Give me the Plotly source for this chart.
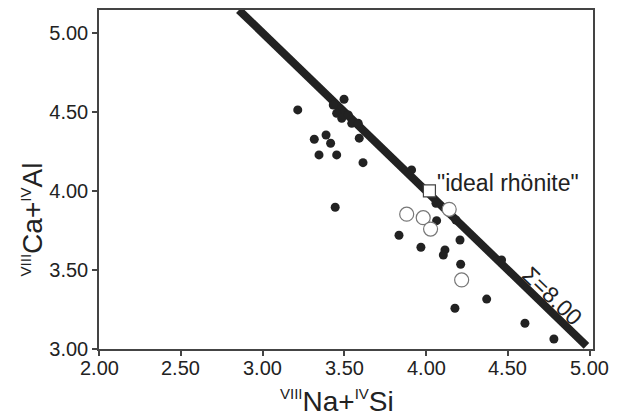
import plotly.graph_objects as go

# Filled symbols (analysed rhönite compositions)
filled_x = [3.215, 3.498, 3.432, 3.453, 3.484, 3.524, 3.545, 3.585, 3.591, 3.316,
            3.388, 3.416, 3.345, 3.453, 3.614, 3.444, 3.911, 4.060, 4.064, 4.182,
            3.834, 4.207, 3.968, 4.115, 4.105, 4.211, 4.461, 4.370, 4.176, 4.604, 4.781]
filled_y = [4.513, 4.580, 4.544, 4.492, 4.460, 4.481, 4.428, 4.428, 4.334, 4.327,
            4.354, 4.302, 4.228, 4.228, 4.179, 3.897, 4.133, 3.922, 3.812, 3.816,
            3.720, 3.690, 3.644, 3.627, 3.595, 3.536, 3.563, 3.316, 3.258, 3.163, 3.063]

# Open symbols
open_x = [3.881, 3.982, 4.027, 4.141, 4.217]
open_y = [3.853, 3.831, 3.759, 3.884, 3.437]

# Ideal rhönite
ideal_x = [4.02]
ideal_y = [4.00]

# Sum line (x + y = 8)
line_sum = 8.00
line_x = [2.855, 4.98]
line_y = [line_sum - v for v in line_x]

x_ticks = [2.0, 2.5, 3.0, 3.5, 4.0, 4.5, 5.0]
x_tick_labels = ["2.00", "2.50", "3.00", "3.50", "4.00", "4.50", "5.00"]
y_ticks = [3.0, 3.5, 4.0, 4.5, 5.0]

SUP = '<sup><span style="font-size:15px">{}</span></sup>'
x_title = SUP.format("VIII") + "Na+" + SUP.format("IV") + "Si"
y_title = SUP.format("VIII") + "Ca+" + SUP.format("IV") + "Al"

FONT = "Liberation Sans, Arial, Helvetica, sans-serif"
DARK = "#222222"

fig = go.Figure()
fig.add_trace(go.Scatter(x=line_x, y=line_y, mode="lines",
                         line=dict(color=DARK, width=8), hoverinfo="skip",
                         showlegend=False))
fig.add_trace(go.Scatter(x=filled_x, y=filled_y, mode="markers",
                         marker=dict(color=DARK, size=9, line=dict(width=0)),
                         showlegend=False))
fig.add_trace(go.Scatter(x=open_x, y=open_y, mode="markers",
                         marker=dict(color="white", size=14, symbol="circle",
                                     line=dict(color="#777777", width=1.2)),
                         showlegend=False))
fig.add_trace(go.Scatter(x=ideal_x, y=ideal_y, mode="markers",
                         marker=dict(color="white", size=12, symbol="square",
                                     line=dict(color="#444444", width=1.2)),
                         showlegend=False))

fig.add_annotation(x=4.055, y=4.05, text='"ideal rhönite"', showarrow=False,
                   xanchor="left", yanchor="middle",
                   font=dict(family=FONT, size=23, color=DARK))
fig.add_annotation(x=4.77, y=3.335, text="Σ=8.00", showarrow=False,
                   textangle=44, xanchor="center", yanchor="middle",
                   font=dict(family=FONT, size=23, color=DARK))

# x tick labels (placed closer to the axis than Plotly's default)
for xv, lab in zip(x_ticks, x_tick_labels):
    fig.add_annotation(x=xv, xref="x", y=0, yref="paper", text=lab, showarrow=False,
                       xanchor="center", yanchor="top", yshift=-6,
                       font=dict(family=FONT, size=20, color=DARK))

# axis titles
fig.add_annotation(x=0.482, xref="paper", y=0, yref="paper", text=x_title,
                   showarrow=False, xanchor="center", yanchor="middle", yshift=-52,
                   font=dict(family=FONT, size=28, color=DARK))
fig.add_annotation(x=0, xref="paper", y=3.82, yref="y", text=y_title,
                   showarrow=False, xanchor="center", yanchor="middle", xshift=-66,
                   textangle=-90, font=dict(family=FONT, size=28, color=DARK))

fig.update_xaxes(range=[2.0, 5.02], tickvals=x_ticks, showticklabels=False,
                 showgrid=False, zeroline=False, showline=True, linecolor="#444444",
                 linewidth=1.5, mirror=True, ticks="outside", ticklen=5,
                 tickcolor="#444444", tickwidth=1.5, automargin=False)
fig.update_yaxes(range=[3.0, 5.145], tickvals=y_ticks, tickformat=".2f",
                 showgrid=False, zeroline=False, showline=True, linecolor="#444444",
                 linewidth=1.5, mirror=True, ticks="outside", ticklen=5,
                 tickcolor="#444444", tickwidth=1.5, automargin=False,
                 tickfont=dict(family=FONT, size=20, color=DARK))

# The page body adds an 8px offset, so the figure is 8px smaller in each direction.
fig.update_layout(width=609, height=409, plot_bgcolor="white", paper_bgcolor="white",
                  margin=dict(l=91, r=24, t=2, b=68, autoexpand=False),
                  showlegend=False)

fig.write_html("out.html")
